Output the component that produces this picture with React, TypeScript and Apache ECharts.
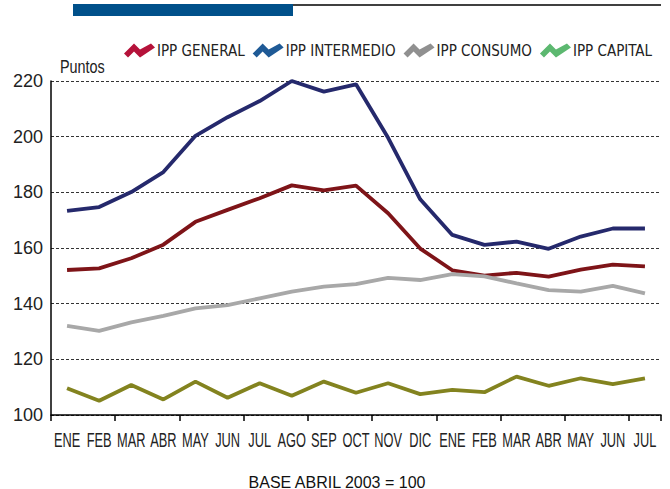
import React, { useEffect, useRef } from "react";
import * as echarts from "echarts";

const categories = ["ENE","FEB","MAR","ABR","MAY","JUN","JUL","AGO","SEP","OCT","NOV","DIC","ENE","FEB","MAR","ABR","MAY","JUN","JUL"];
const ippGeneral = [152.1,152.7,156.3,161.2,169.4,173.7,177.9,182.5,180.7,182.4,172.5,159.8,152.0,150.1,151.1,149.7,152.2,154.0,153.4];
const ippIntermedio = [173.3,174.7,180.1,187.3,200.3,207.0,212.8,220.0,216.2,218.8,199.6,177.5,164.7,161.1,162.3,159.7,164.1,167.0,167.0];
const ippConsumo = [132.0,130.2,133.3,135.6,138.3,139.5,141.9,144.3,146.1,147.0,149.3,148.5,150.6,149.8,147.3,144.9,144.3,146.4,143.7];
const ippCapital = [109.6,105.1,110.8,105.6,112.0,106.2,111.4,106.9,112.0,108.0,111.4,107.5,109.0,108.2,113.8,110.5,113.2,111.1,113.2];
const yTicks = { min: 100, max: 220, interval: 20 };

const COND = "'DejaVu Sans Condensed', 'DejaVu Sans', sans-serif";
const ARIAL = "'Liberation Sans', Arial, sans-serif";
const ZIG = "path://M0,10 L10,0 L16,6 L27,0 L31,4 L16,14 L10,8 L4,14 Z";

export default function App() {
  const ref = useRef<HTMLDivElement>(null);
  useEffect(() => {
    if (!ref.current) return;
    const chart = echarts.init(ref.current, null, { renderer: "svg" });
    const mk = (name: string, data: number[], color: string) => ({
      name,
      type: "line",
      data,
      symbol: "none",
      lineStyle: { color, width: 3.8 },
      itemStyle: { color },
    });
    const staticGraphics: any[] = [
      { type: "rect", shape: { x: 73, y: 4, width: 220, height: 12 }, style: { fill: "#00508a" } },
      { type: "line", shape: { x1: 293, y1: 5, x2: 661, y2: 5 }, style: { stroke: "#000", lineWidth: 1.5 } },
      { type: "text", x: 60, y: 57, scaleX: 0.8, style: { text: "Puntos", font: `18px ${ARIAL}`, fill: "#222" } },
      { type: "text", x: 337, y: 474, style: { text: "BASE ABRIL 2003 = 100", font: `16px ${ARIAL}`, fill: "#111", textAlign: "center" } },
    ];
    chart.setOption({
      animation: false,
      backgroundColor: "#ffffff",
      graphic: staticGraphics,
      legend: {
        left: 119,
        top: 38,
        itemWidth: 31,
        itemHeight: 14,
        itemGap: 8,
        textStyle: { fontFamily: COND, fontSize: 15, color: "#222", padding: [0, 0, 0, -3] },
        data: [
          { name: "IPP GENERAL", icon: ZIG, itemStyle: { color: "#b5123a" } },
          { name: "IPP INTERMEDIO", icon: ZIG, itemStyle: { color: "#1f5a96" } },
          { name: "IPP CONSUMO", icon: ZIG, itemStyle: { color: "#909090" } },
          { name: "IPP CAPITAL", icon: ZIG, itemStyle: { color: "#5cb870" } },
        ],
      },
      grid: { left: 51, right: 9, top: 81, bottom: 74, containLabel: false },
      xAxis: {
        type: "category",
        data: categories,
        boundaryGap: true,
        axisLine: { lineStyle: { color: "#000", width: 1.5 } },
        axisTick: { show: true, length: 6, lineStyle: { color: "#000", width: 1.5 } },
        axisLabel: { show: false },
      },
      yAxis: {
        type: "value",
        min: yTicks.min,
        max: yTicks.max,
        interval: yTicks.interval,
        axisLine: { show: true, lineStyle: { color: "#000", width: 1.5 } },
        axisTick: { show: false },
        axisLabel: { fontFamily: ARIAL, fontSize: 18, color: "#222", margin: 8 },
        splitLine: { lineStyle: { color: "#333", type: [3, 2], width: 1 } },
      },
      series: [
        mk("IPP GENERAL", ippGeneral, "#7e1418"),
        mk("IPP INTERMEDIO", ippIntermedio, "#25296c"),
        mk("IPP CONSUMO", ippConsumo, "#a8a8a8"),
        mk("IPP CAPITAL", ippCapital, "#83831f"),
      ],
    });
    const labelY = (chart.convertToPixel({ yAxisIndex: 0 }, yTicks.min) as number) + 15;
    const xLabels = categories.map((c, i) => ({
      type: "text",
      x: chart.convertToPixel({ xAxisIndex: 0 }, i) as number,
      y: labelY,
      scaleX: 0.64,
      style: { text: c, font: `20px ${ARIAL}`, fill: "#222", textAlign: "center", textVerticalAlign: "top" },
    }));
    chart.setOption({ graphic: [...staticGraphics, ...xLabels] });
    return () => chart.dispose();
  }, []);
  return <div ref={ref} style={{ width: 670, height: 489, position: "absolute", left: 0, top: 0 }} />;
}
